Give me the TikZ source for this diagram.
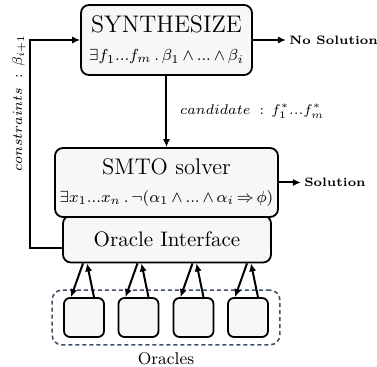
\documentclass[tikz,border=0pt]{standalone}
\usepackage{xcolor}
\usepackage{tikz}
\usetikzlibrary{arrows.meta,positioning,fit}
\definecolor{OFill}{HTML}{F7F7F7}
\definecolor{ODash}{HTML}{3E5068}
\newcommand\tdots{\mathord{...}}
\newcommand\fml{\fontsize{8.4}{10}\selectfont\medmuskip=3mu\thickmuskip=3mu}

\begin{document}
\begin{tikzpicture}[
  x=0.5pt,y=-0.5pt,
  blk/.style={draw,line width=0.9pt,rounded corners=4pt,fill=OFill,
    inner xsep=1.5pt,inner ysep=0pt,align=center},
  orc/.style={draw,line width=0.9pt,rounded corners=3pt,fill=OFill,
    minimum width=20pt,minimum height=19.5pt,inner sep=0pt},
  res/.style={font=\fontsize{6.1}{8}\selectfont\bfseries,inner sep=1.5pt},
  lbl/.style={font=\fontsize{7.2}{9}\selectfont},
  a/.style={-{Latex[length=4pt,width=3.6pt]},line width=1pt}
]
  \useasboundingbox (0,0) rectangle (377,367);
  \node[blk,minimum width=104pt,minimum height=23.5pt,
    font=\fontsize{10.5}{12}\selectfont] (iface) at (167,239) {Oracle Interface};
  \node[blk,minimum width=85.5pt,minimum height=35pt] (synth) at (166.5,40)
    {{\fontsize{12}{13}\selectfont SYNTHESIZE}\\[2pt]
     {\fml$\exists f_1\tdots f_m\,.\,\beta_1\wedge\tdots\wedge\beta_i$}};
  \node[blk,minimum width=111.5pt,minimum height=34.5pt] (smto) at (166.5,182.5)
    {{\fontsize{11.3}{13}\selectfont SMTO solver}\\[2pt]
     {\fml$\exists x_1\tdots x_n\,.\,\neg(\alpha_1\wedge\tdots\wedge\alpha_i\Rightarrow\phi)$}};
  \node[res,right=16.5pt of synth] (nosol) {No Solution};
  \node[res,right=11pt of smto] (sol) {Solution};
  % oracles
  \foreach \i/\x in {1/84,2/138.5,3/193.5,4/248}
    {\node[orc] (o\i) at (\x,317.5) {};}
  \node[draw=ODash,dashed,dash pattern=on 2pt off 1.5pt,line width=0.8pt,
    rounded corners=5pt,fit=(o1)(o4),inner xsep=5.5pt,inner ysep=3.5pt] (pool) {};
  \node[below=0pt of pool,font=\fontsize{8.5}{10}\selectfont] (olab) {Oracles};
  \node[lbl,rotate=90,font=\fontsize{6.7}{8}\selectfont] (clab) at (19,103)
    {$constraints\;:\,\beta_{i+1}$};

  \draw[a] (synth) -- node[lbl,right=3pt] (cand) {$candidate\;:\,f_1^*\tdots f_m^*$} (smto);
  \draw[a] (synth) -- (nosol);
  \draw[a] (smto) -- (sol);
  \draw[a] ([yshift=-4.75pt]iface.west) -- ++(-32,0) |- (synth.west);
  \foreach \i in {1,...,4}{
    \draw[a] ([xshift=-0.5pt]o\i.north |- iface.south) -- ([xshift=-6.5pt]o\i.north);
    \draw[a] ([xshift=5pt]o\i.north) -- ([xshift=1.5pt]o\i.north |- iface.south);
  }
\end{tikzpicture}
\end{document}
